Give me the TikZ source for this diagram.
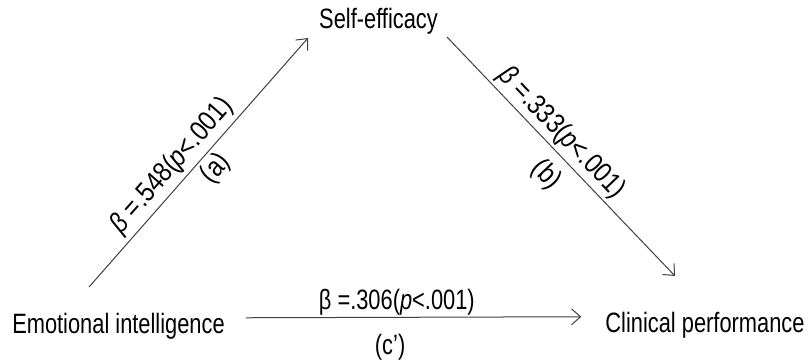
\documentclass[tikz,border=0pt]{standalone}
\usepackage{graphicx}
\usepackage{fontspec}
\setmainfont{Liberation Sans}
\usetikzlibrary{arrows.meta,positioning}
\definecolor{linec}{HTML}{404040}
\newcommand\squeeze[1]{\scalebox{0.78}[1]{#1}}
\newcommand\slopesqueeze[1]{\scalebox{0.85}[1]{#1}}

\begin{document}
\begin{tikzpicture}[x=1pt,y=-1pt,font=\fontsize{28}{32}\selectfont,
    var/.style={inner sep=0pt,anchor=base},
    effect/.style={-{Straight Barb[length=9pt,width=16pt,line width=1pt]},line width=1pt,draw=linec},
    coef/.style={sloped,above,inner sep=4pt},
    tag/.style={sloped,below,inner sep=6pt}]
  \useasboundingbox (0,0) rectangle (808,362);
  % variables
  \node[var] (se) at (378.5,28) {\squeeze{Self-efficacy}};
  \node[var] (ei) at (118.5,333) {\squeeze{Emotional intelligence}};
  \node[var] (cp) at (705,332) {\squeeze{Clinical performance}};
  % paths
  \draw[effect] ([shift={(-29.5,-25.5)}]ei.north) -- ([shift={(-11,4)}]se.south west)
    node[coef,pos=0.44] {\slopesqueeze{\textit{β} =.548(\textit{p}<.001)}}
    node[tag,pos=0.52,inner sep=4pt] {\slopesqueeze{(a)}};
  \draw[effect] ([shift={(9,3)}]se.south east) -- ([shift={(-30,-35.5)}]cp.north)
    node[coef,pos=0.45,inner sep=3pt] {\slopesqueeze{\textit{β} =.333(\textit{p}<.001)}}
    node[tag,pos=0.51,inner sep=10pt] {\slopesqueeze{(b)}};
  \draw[effect] ([shift={(21,-8)}]ei.east) -- ([shift={(-24,-8)}]cp.west)
    node[above,pos=0.45,inner sep=1.5pt] {\squeeze{β =.306(\textit{p}<.001)}}
    node[below,pos=0.43,inner sep=16pt] {\squeeze{(c’)}};
\end{tikzpicture}
\end{document}
